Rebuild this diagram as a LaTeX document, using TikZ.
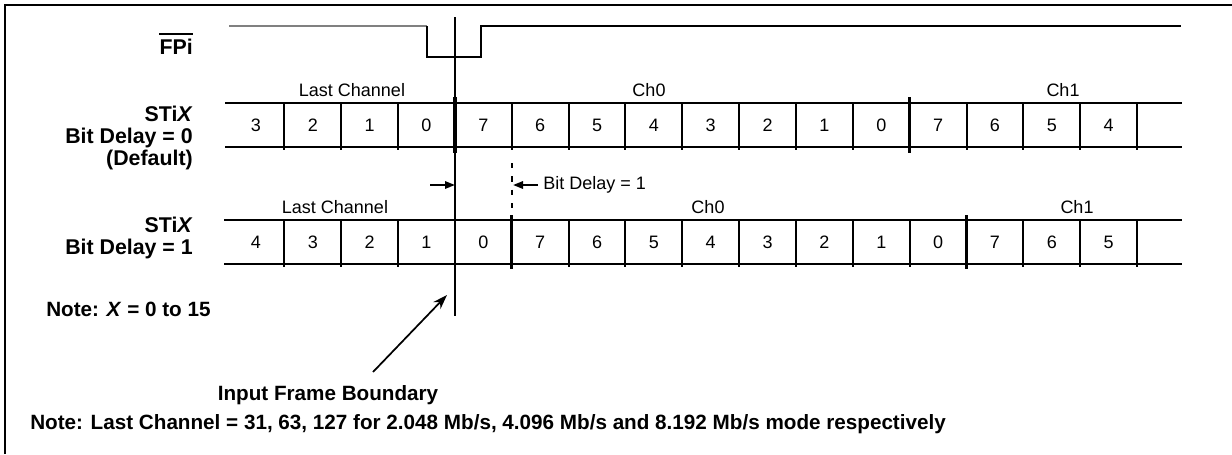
\documentclass[tikz,border=0pt]{standalone}
\usepackage{fontspec}
\setmainfont{Liberation Sans}
\usetikzlibrary{arrows.meta}

\begin{document}
\begin{tikzpicture}[x=0.75pt, y=-0.75pt,
    lbl/.style={font=\fontsize{16}{16.5}\selectfont\bfseries, align=right, anchor=east, inner sep=0pt},
    note/.style={font=\fontsize{15.5}{16}\selectfont\bfseries, anchor=west, inner sep=0pt},
    txt/.style={font=\fontsize{13.5}{15}\selectfont, inner sep=0pt},
    rowline/.style={line width=1.5pt},
    bitsep/.style={line width=1.5pt},
    chsep/.style={line width=2.6pt},
    smallarrow/.style={line width=1.5pt, -{Triangle[length=7.5pt, width=5.5pt]}}]
    \useasboundingbox (0,0) rectangle (1232,454);

    % Draw frame
    \draw[line width=1.5pt] (5,454) -- (5,5) -- (1232,5);

    % Draw FPi waveform
    \draw[gray, line width=0.8pt] (229,26) -- (427,26);
    \draw[line width=1.5pt] (427,26) -- (427,57) -- (481,57) -- (481,26) -- (1181,26);

    % Draw input frame boundary
    \draw[line width=1.1pt] (455,17) -- (455,316);

    % Draw STiX row, bit delay = 0
    \draw[rowline] (225,103) -- (1182,103);
    \draw[rowline] (225,147) -- (1182,147);
    \foreach \k in {1,2,3,5,6,7,8,9,10,11,13,14,15,16}
        \draw[bitsep] ({227.5+\k*56.85},103) -- ({227.5+\k*56.85},150);
    \foreach \k in {4,12}
        \draw[chsep] ({227.5+\k*56.85},97) -- ({227.5+\k*56.85},153);
    \foreach \d [count=\k from 0] in {3,2,1,0,7,6,5,4,3,2,1,0,7,6,5,4}
        \node[txt] (ra\k) at ({227.5+(\k+0.5)*56.85},125) {\d};

    % Draw STiX row, bit delay = 1
    \draw[rowline] (224,220) -- (1182,220);
    \draw[rowline] (224,264) -- (1182,264);
    \foreach \k in {1,2,3,6,7,8,9,10,11,12,14,15,16}
        \draw[bitsep] ({227.5+\k*56.85},220) -- ({227.5+\k*56.85},267);
    \foreach \k in {5,13}
        \draw[chsep] ({227.5+\k*56.85},215) -- ({227.5+\k*56.85},269);
    \foreach \d [count=\k from 0] in {4,3,2,1,0,7,6,5,4,3,2,1,0,7,6,5}
        \node[txt] (rb\k) at ({227.5+(\k+0.5)*56.85},242) {\d};

    % Draw bit delay marker
    \draw[line width=1.5pt, dash pattern=on 4pt off 6pt] (512,163) -- (512,215);
    \coordinate (bdl) at (430,185);
    \coordinate (bdr) at (455,185);
    \coordinate (dlyl) at (513,185);
    \coordinate (dlyr) at (538,185);
    \draw[smallarrow] (bdl) -- (bdr);
    \draw[smallarrow] (dlyr) -- (dlyl);
    \node[txt, anchor=west] (bdtext) at (543,185) {Bit Delay = 1};

    % Channel labels
    \node[txt] (lca) at (352,90) {Last Channel};
    \node[txt] (ch0a) at (649,90) {Ch0};
    \node[txt] (ch1a) at (1063,90) {Ch1};
    \node[txt] (lcb) at (335,207) {Last Channel};
    \node[txt] (ch0b) at (708,207) {Ch0};
    \node[txt] (ch1b) at (1077,207) {Ch1};

    % Signal names
    \node[lbl] (fpi) at (193,47) {FPi};
    \coordinate (ovl) at (0,34);
    \draw[line width=1.8pt] (fpi.west |- ovl) -- (fpi.east |- ovl);
    \node[lbl] (stxa) at (193,138) {STi\textit{X}\\Bit Delay = 0\\(Default)};
    \node[lbl] (stxb) at (193,238) {STi\textit{X}\\Bit Delay = 1};

    % Notes
    \node[note] (notex) at (46,309) {Note: \textit{X} = 0 to 15};
    \node[note, anchor=center] (ifb) at (328,395) {Input Frame Boundary};
    \coordinate (ifbtail) at (373,372);
    \coordinate (ifbtip) at (447,295);
    \draw[line width=1.3pt, -{Stealth[length=11pt, width=7.5pt]}] (ifbtail) -- (ifbtip);
    \node[note] (notelc) at (30,424) {Note: Last Channel = 31, 63, 127 for 2.048 Mb/s, 4.096 Mb/s and 8.192 Mb/s mode respectively};
\end{tikzpicture}
\end{document}
